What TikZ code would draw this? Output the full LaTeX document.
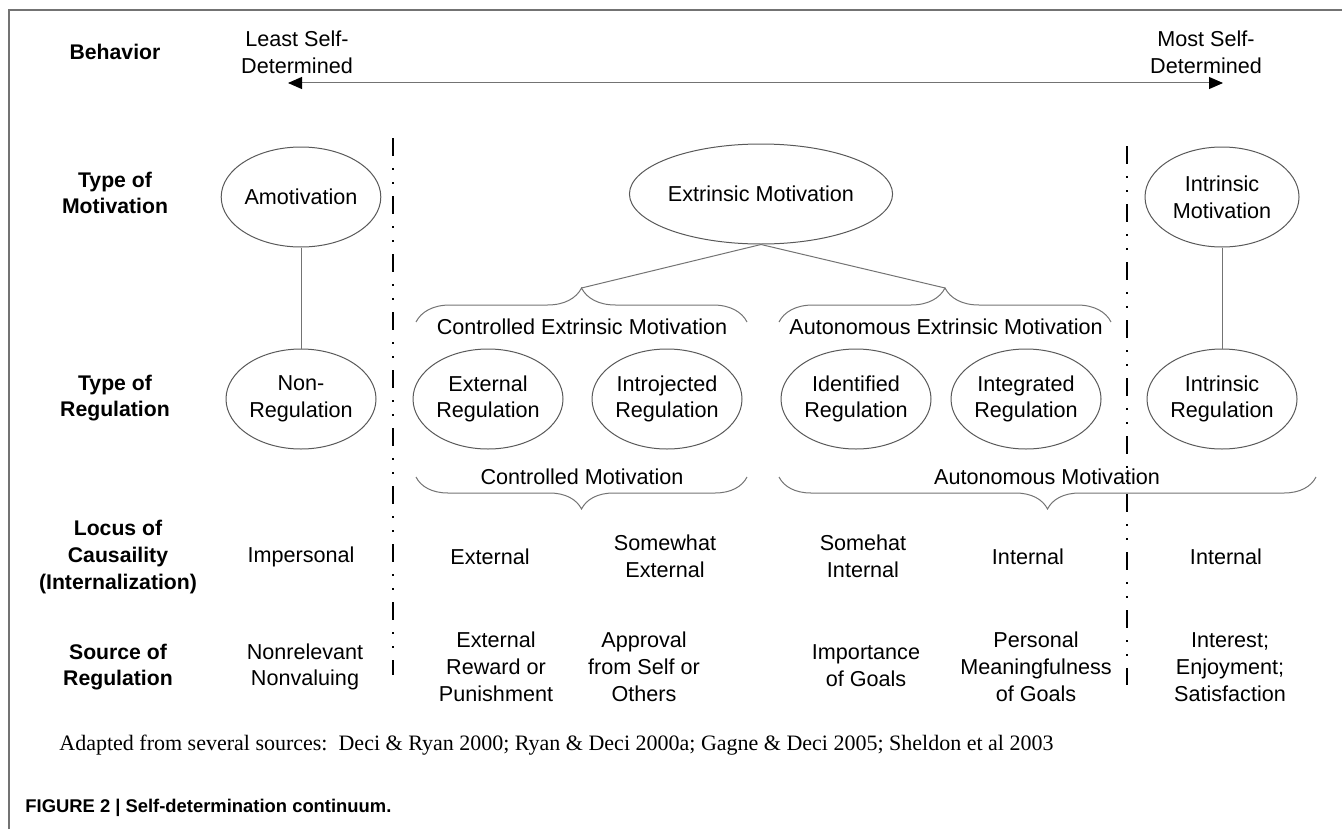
\documentclass[tikz,border=0pt]{standalone}
\usepackage{fontspec}
\setmainfont{Liberation Sans}
\newfontfamily\capserif{Liberation Serif}
\usetikzlibrary{shapes.geometric,arrows.meta,decorations.pathreplacing}

\begin{document}
\begin{tikzpicture}[x=0.5pt,y=-0.5pt,
  every node/.style={font=\fontsize{10.8}{13.4}\selectfont, align=center, inner sep=0pt},
  rowlabel/.style={font=\fontsize{10.6}{13.4}\selectfont\bfseries},
  oval/.style={ellipse, draw=black!65, line width=0.5pt, minimum width=75pt, minimum height=50pt},
  link/.style={draw=black!55, line width=0.5pt},
  divider/.style={line width=1.4pt, dash pattern=on 9pt off 6pt on 1pt off 6pt on 1pt off 6pt},
  upbrace/.style={link, decorate, decoration={brace, amplitude=17pt}},
  downbrace/.style={link, decorate, decoration={brace, amplitude=16pt}},
  headtip/.tip={Triangle[length=7pt, width=6pt, color=black]}
]
\useasboundingbox (0,0) rectangle (1342,829);
% frame
\draw[black!55, line width=0.75pt] (9,829) -- (9,10) -- (1342,10);

% row labels
\node[rowlabel] (behav) at (115,52) {Behavior};
\node[rowlabel] (tmot) at (115,193) {Type of\\Motivation};
\node[rowlabel] (treg) at (115,398) {Type of\\Regulation};
\node[rowlabel] (locus) at (118,557) {Locus of\\Causaility\\(Internalization)};
\node[rowlabel] (source) at (118,667) {Source of\\Regulation};

% behaviour continuum
\node (least) at (297,52) {Least Self-\\Determined};
\node (most) at (1206,52) {Most Self-\\Determined};
\coordinate (arrL) at (288,83);
\coordinate (arrR) at (1223,83);
\draw[link, headtip-headtip] (arrL) -- (arrR);

% dividers
\draw[divider] (393,138) -- (393,675);
\draw[divider] (1127,146) -- (1127,685);

% type of motivation
\node[oval, minimum width=79pt] (amot) at (301,197) {Amotivation};
\node[oval, minimum width=124pt] (extr) at (761,194) {Extrinsic Motivation};
\node[oval, minimum width=77pt] (intr) at (1222,197) {Intrinsic\\Motivation};

% type of regulation
\node[oval] (nonreg) at (301,399) {Non-\\Regulation};
\node[oval] (extreg) at (488,399) {External\\Regulation};
\node[oval] (introreg) at (667,399) {Introjected\\Regulation};
\node[oval] (identreg) at (856,399) {Identified\\Regulation};
\node[oval] (integreg) at (1026,399) {Integrated\\Regulation};
\node[oval] (intrreg) at (1222,399) {Intrinsic\\Regulation};

\draw[link] (amot) -- (nonreg);
\draw[link] (intr) -- (intrreg);

% extrinsic split
\coordinate (cemL) at (416,322);
\coordinate (cemR) at (747,322);
\coordinate (cemtip) at (581.5,288);
\coordinate (aemL) at (779,322);
\coordinate (aemR) at (1111,322);
\coordinate (aemtip) at (945,288);
\draw[upbrace] (cemL) -- (cemR);
\draw[upbrace] (aemL) -- (aemR);
\draw[link] (extr.south) -- (cemtip);
\draw[link] (extr.south) -- (aemtip);
\node (cem) at (582,327) {Controlled Extrinsic Motivation};
\node (aem) at (946,327) {Autonomous Extrinsic Motivation};

% controlled / autonomous
\coordinate (cmL) at (416,477);
\coordinate (cmR) at (747,477);
\coordinate (amL) at (779,477);
\coordinate (amR) at (1316,477);
\draw[downbrace] (cmR) -- (cmL);
\draw[downbrace] (amR) -- (amL);
\node (cm) at (582,477) {Controlled Motivation};
\node (am) at (1047,477) {Autonomous Motivation};

% locus of causality
\node (lc1) at (301,557) {Impersonal};
\node (lc2) at (490,557) {External};
\node (lc3) at (665,556) {Somewhat\\External};
\node (lc4) at (863,556) {Somehat\\Internal};
\node (lc5) at (1028,557) {Internal};
\node (lc6) at (1226,557) {Internal};

% source of regulation
\node (sr1) at (305,667) {Nonrelevant\\Nonvaluing};
\node (sr2) at (496,667) {External\\Reward or\\Punishment};
\node (sr3) at (644,667) {Approval\\from Self or\\Others};
\node (sr4) at (866,666) {Importance\\of Goals};
\node (sr5) at (1036,667) {Personal\\Meaningfulness\\of Goals};
\node (sr6) at (1230,667) {Interest;\\Enjoyment;\\Satisfaction};

% captions
\node[anchor=west, font=\capserif\fontsize{11}{13}\selectfont] (adapted) at (59,745)
  {Adapted from several sources:\ \ Deci \& Ryan 2000; Ryan \& Deci 2000a; Gagne \& Deci 2005; Sheldon et al 2003};
\node[anchor=west, font=\fontsize{9.2}{11}\selectfont\bfseries] (figcap) at (25,808)
  {FIGURE 2 | Self-determination continuum.};
\end{tikzpicture}
\end{document}
